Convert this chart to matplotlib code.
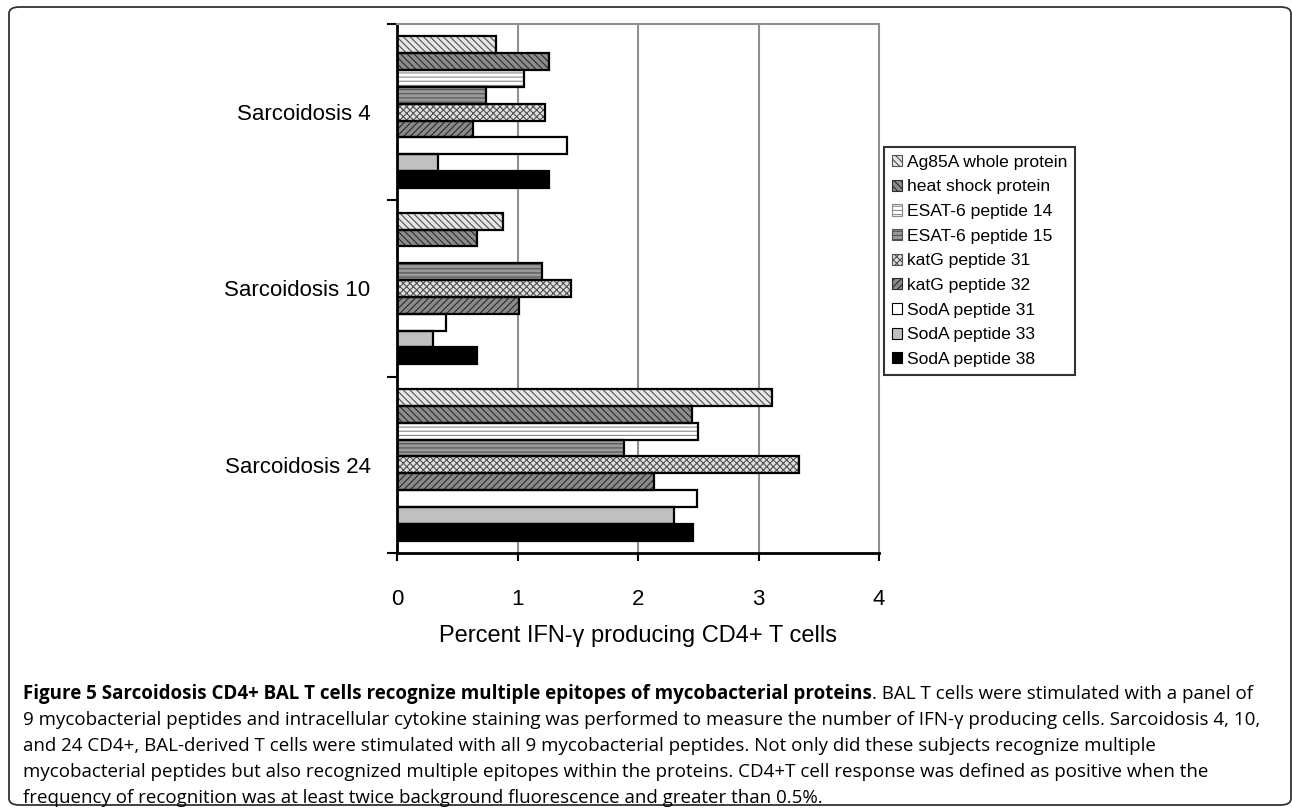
import matplotlib
matplotlib.use('Agg')
import matplotlib.pyplot as plt
import numpy as np
from matplotlib.patches import FancyBboxPatch, Patch

## 데이터
subjects = ['Sarcoidosis 4', 'Sarcoidosis 10', 'Sarcoidosis 24']
peptides = ['Ag85A whole protein', 'heat shock protein', 'ESAT-6 peptide 14',
            'ESAT-6 peptide 15', 'katG peptide 31', 'katG peptide 32',
            'SodA peptide 31', 'SodA peptide 33', 'SodA peptide 38']
sarc4 = [0.82, 1.26, 1.05, 0.74, 1.23, 0.63, 1.41, 0.34, 1.26]
sarc10 = [0.88, 0.66, 0.0, 1.20, 1.44, 1.01, 0.41, 0.30, 0.66]
sarc24 = [3.11, 2.45, 2.50, 1.88, 3.34, 2.13, 2.49, 2.30, 2.46]
xticks = [0, 1, 2, 3, 4]

## 스타일 (면색, 해치, 해치색)
faces = ['#e6e6e6', '#8c8c8c', '#ffffff', '#9a9a9a', '#e0e0e0', '#8a8a8a',
         '#ffffff', '#c0c0c0', '#000000']
hatches = ['\\\\\\\\\\', '\\\\\\\\\\', '----', '----', 'xxxxx', '/////',
           None, None, None]
hcolors = ['#505050', '#2a2a2a', '#8a8a8a', '#505050', '#505050', '#2a2a2a',
           'k', 'k', 'k']

plt.rcParams['font.family'] = ['Liberation Sans', 'DejaVu Sans']
plt.rcParams['hatch.linewidth'] = 0.8

fig = plt.figure(figsize=(12.92, 8.09), dpi=100)
ax = fig.add_axes([397 / 1292, 1 - 553 / 809, (879 - 397) / 1292, (553 - 24) / 809])

vals = np.array([sarc4, sarc10, sarc24])
cat = np.arange(len(subjects))
h = 0.86 / len(peptides)
for i in range(len(peptides)):
    y = cat + (i - 4) * h
    # 해치 채우기
    ax.barh(y, vals[:, i], height=h, color=faces[i], hatch=hatches[i],
            edgecolor=hcolors[i], linewidth=0, zorder=2)
    # 테두리
    ax.barh(y, vals[:, i], height=h, fill=False, edgecolor='k',
            linewidth=1.6, zorder=3)

ax.set_xlim(0, 4)
ax.set_ylim(2.5, -0.5)
ax.set_xticks(xticks)
ax.set_xticklabels([str(t) for t in xticks], fontsize=16)
ax.set_yticks(cat)
ax.set_yticklabels(subjects, fontsize=16)
ax.set_yticks([-0.5, 0.5, 1.5, 2.5], minor=True)
ax.tick_params(axis='y', which='major', length=0, pad=19)
ax.tick_params(axis='y', which='minor', length=7, width=1.5, direction='out')
ax.tick_params(axis='x', length=6, width=1.5, direction='out', pad=20)
for t in [1, 2, 3]:
    ax.axvline(t, color='#909090', lw=1.5, zorder=1)
for s in ['left', 'bottom']:
    ax.spines[s].set_linewidth(2)
    ax.spines[s].set_color('k')
for s in ['top', 'right']:
    ax.spines[s].set_linewidth(1.5)
    ax.spines[s].set_color('#909090')
ax.set_xlabel('Percent IFN-γ producing CD4+ T cells', fontsize=17, labelpad=11)

## 범례
handles = [Patch(facecolor=faces[i], hatch=hatches[i], edgecolor=hcolors[i] if hatches[i] else 'k',
                 linewidth=0.8) for i in range(len(peptides))]
leg = fig.legend(handles, peptides, loc='upper left',
                 bbox_to_anchor=(884 / 1292, 1 - 147 / 809), fontsize=12.6,
                 frameon=True, fancybox=False, edgecolor='k',
                 handlelength=0.6, handleheight=0.6, handletextpad=0.25,
                 labelspacing=0.55, borderpad=0.45, borderaxespad=0)
leg.get_frame().set_linewidth(1.5)

## 외곽 테두리
border = FancyBboxPatch((9 / 1292, 4 / 809), 1282 / 1292, 798 / 809,
                        boxstyle='round,pad=0,rounding_size=0.008',
                        transform=fig.transFigure, fill=False,
                        edgecolor='#333333', linewidth=1.3, clip_on=False)
fig.patches.append(border)

## 캡션
cap_font = ['Open Sans', 'DejaVu Sans']
fs = 13.5
x0 = 23 / 1292
bold = fig.text(x0, 1 - 694 / 809,
                'Figure 5 Sarcoidosis CD4+ BAL T cells recognize multiple epitopes of mycobacterial proteins',
                fontsize=fs, fontweight='bold', family=cap_font, va='center')
fig.canvas.draw()
bb = bold.get_window_extent(renderer=fig.canvas.get_renderer())
fig.text(bb.x1 / fig.bbox.width, 1 - 694 / 809,
         '. BAL T cells were stimulated with a panel of',
         fontsize=fs, family=cap_font, va='center')
lines = [
    '9 mycobacterial peptides and intracellular cytokine staining was performed to measure the number of IFN-γ producing cells. Sarcoidosis 4, 10,',
    'and 24 CD4+, BAL-derived T cells were stimulated with all 9 mycobacterial peptides. Not only did these subjects recognize multiple',
    'mycobacterial peptides but also recognized multiple epitopes within the proteins. CD4+T cell response was defined as positive when the',
    'frequency of recognition was at least twice background fluorescence and greater than 0.5%.',
]
for k, ln in enumerate(lines):
    fig.text(x0, 1 - (720 + 26 * k) / 809, ln, fontsize=fs, family=cap_font, va='center')

fig.savefig('out.png', dpi=100)
